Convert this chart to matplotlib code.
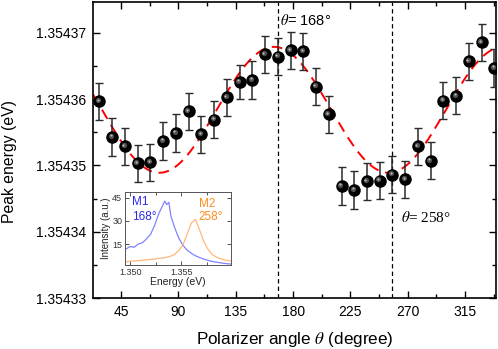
import numpy as np
import matplotlib.pyplot as plt
from matplotlib.ticker import MultipleLocator, FormatStrFormatter
from matplotlib.transforms import offset_copy

plt.rcParams['font.family'] = ['Liberation Sans', 'DejaVu Sans']

# measured peak energy vs polarizer angle
angles = [28, 38, 48, 58, 68, 78, 88, 98, 108, 118, 128, 138, 148, 158, 168, 178,
          188, 198, 208, 218, 228, 238, 248, 258, 268, 278, 288, 298, 308, 318, 328, 338]
peak_energy = [1.3543597, 1.3543543, 1.3543529, 1.3543503, 1.3543505, 1.3543537,
               1.3543549, 1.3543582, 1.3543547, 1.3543569, 1.3543603, 1.3543626,
               1.3543629, 1.3543668, 1.3543664, 1.3543674, 1.3543672, 1.3543619,
               1.3543577, 1.3543469, 1.3543463, 1.3543476, 1.3543477, 1.3543486,
               1.3543479, 1.3543529, 1.3543507, 1.3543598, 1.3543605, 1.3543657,
               1.3543686, 1.3543647]
peak_err = [2.8e-6, 2.8e-6, 2.8e-6, 2.8e-6, 2.8e-6, 2.8e-6, 2.8e-6, 2.8e-6,
            2.8e-6, 2.8e-6, 2.8e-6, 2.5e-6, 2.8e-6, 2.8e-6, 2.8e-6, 2.8e-6,
            2.8e-6, 2.8e-6, 2.8e-6, 2.8e-6, 2.8e-6, 2.8e-6, 2.8e-6, 2.8e-6,
            2.8e-6, 2.8e-6, 2.8e-6, 2.8e-6, 2.8e-6, 2.8e-6, 2.8e-6, 2.8e-6]

# cos(2 theta) fit parameters
fit_offset = 1.3543584
fit_amp = 0.95e-5
fit_phase = 165.0

marked_angles = [168, 258]

# inset spectra
spec_energy = [1.3496, 1.3500, 1.3504, 1.3508, 1.3512, 1.3516, 1.3520, 1.3524,
               1.3528, 1.3532, 1.3534, 1.3536, 1.3538, 1.3540, 1.3544, 1.3548,
               1.3552, 1.3556, 1.3560, 1.3564, 1.3568, 1.3572, 1.3576, 1.3580,
               1.3584, 1.3588, 1.3592, 1.3596, 1.3600]
spec_m1 = [11.8, 13.4, 12.9, 15.0, 15.8, 18.3, 21.2, 27.0, 34.5, 40.0, 42.8,
           40.5, 42.0, 33.0, 25.0, 18.5, 14.0, 11.0, 9.0, 7.4, 6.3, 5.3, 4.5,
           3.8, 3.3, 2.9, 2.5, 2.2, 2.0]
spec_m2 = [3.5, 3.9, 4.0, 4.3, 4.5, 4.8, 5.0, 5.3, 5.6, 6.0, 6.2, 6.5, 6.8,
           7.2, 8.5, 11.0, 14.7, 21.5, 28.5, 31.0, 24.5, 17.0, 12.0, 8.5, 6.8,
           5.6, 4.8, 4.3, 4.0]

fig = plt.figure(figsize=(4.98, 3.49), dpi=100)
ax = fig.add_axes([0.187, 0.146, 0.809, 0.849])

theta = np.linspace(23, 339.5, 400)
ax.plot(theta, fit_offset + fit_amp * np.cos(np.radians(2 * (theta - fit_phase))),
        color='red', lw=1.4, ls=(0, (5.5, 3.5)), zorder=2)

for a in marked_angles:
    ax.axvline(a, color='black', lw=0.9, ls=(0, (3.5, 2.5)), zorder=1)

ax.errorbar(angles, peak_energy, yerr=peak_err, fmt='none', ecolor='#2b2b2b',
            elinewidth=1.1, capsize=3, capthick=1.0, zorder=3)
ax.plot(angles, peak_energy, 'o', color='black', ms=8, zorder=4)
hl1 = offset_copy(ax.transData, fig=fig, x=-1.3, y=1.3, units='dots')
hl2 = offset_copy(ax.transData, fig=fig, x=-1.6, y=1.6, units='dots')
ax.plot(angles, peak_energy, 'o', color='#505050', ms=3.8, mew=0, transform=hl1, zorder=5)
ax.plot(angles, peak_energy, 'o', color='#bdbdbd', ms=1.5, mew=0, transform=hl2, zorder=6)

ax.set_xlim(23, 339.3)
ax.set_ylim(1.35433, 1.3543747)
ax.set_xticks([45, 90, 135, 180, 225, 270, 315])
ax.xaxis.set_minor_locator(MultipleLocator(22.5))
ax.set_yticks([1.35433, 1.35434, 1.35435, 1.35436, 1.35437])
ax.yaxis.set_minor_locator(MultipleLocator(0.000005))
ax.yaxis.set_major_formatter(FormatStrFormatter('%.5f'))
ax.tick_params(which='both', direction='in', top=True, right=True, labelsize=10, width=1)
ax.tick_params(which='major', length=5, pad=5)
ax.tick_params(which='minor', length=3)
for s in ax.spines.values():
    s.set_linewidth(1.2)

ax.set_xlabel(r'Polarizer angle $\theta$ (degree)', fontsize=12.3, labelpad=8,
              math_fontfamily='stix')
ax.set_ylabel('Peak energy (eV)', fontsize=11.3)
ax.yaxis.set_label_coords(-0.188, 0.46)

ax.text(170, 1.3543718, r'$\theta$= 168°', fontsize=10.5, ha='left', va='center',
        math_fontfamily='stix')
ax.text(265, 1.3543421, r'$\theta$= 258°', fontsize=11, ha='left', va='center',
        family=['Liberation Serif'], math_fontfamily='stix')

# inset
ins = fig.add_axes([0.251, 0.241, 0.213, 0.209])
ins.plot(spec_energy, spec_m1, color='#6b6bff', lw=0.9, alpha=0.85)
ins.plot(spec_energy, spec_m2, color='#ffb070', lw=0.9, alpha=0.9)
ins.set_xlim(1.3495, 1.3599)
ins.set_ylim(1.5, 48.7)
ins.set_xticks([1.350, 1.355])
ins.xaxis.set_minor_locator(MultipleLocator(0.0025))
ins.xaxis.set_major_formatter(FormatStrFormatter('%.3f'))
ins.set_yticks([15, 30, 45])
ins.tick_params(which='both', direction='in', top=True, right=True, labelsize=6.5,
                width=0.6, pad=2, colors='#333333')
ins.tick_params(which='major', length=3)
ins.tick_params(which='minor', length=2)
for s in ins.spines.values():
    s.set_linewidth(0.7)
    s.set_color('#555555')
ins.set_xlabel('Energy (eV)', fontsize=7.5, labelpad=0, color='#222222')
ins.set_ylabel('Intensity (a.u.)', fontsize=7, labelpad=1, color='#222222')
ins.text(0.07, 0.86, 'M1', color='#2a2aee', fontsize=8.5, transform=ins.transAxes, va='center')
ins.text(0.07, 0.66, '168°', color='#2a2aee', fontsize=8.5, transform=ins.transAxes, va='center')
ins.text(0.70, 0.84, 'M2', color='#ff8c1a', fontsize=8.5, transform=ins.transAxes, va='center')
ins.text(0.69, 0.66, '258°', color='#ff8c1a', fontsize=8.5, transform=ins.transAxes, va='center')

fig.savefig('out.png', dpi=100)
